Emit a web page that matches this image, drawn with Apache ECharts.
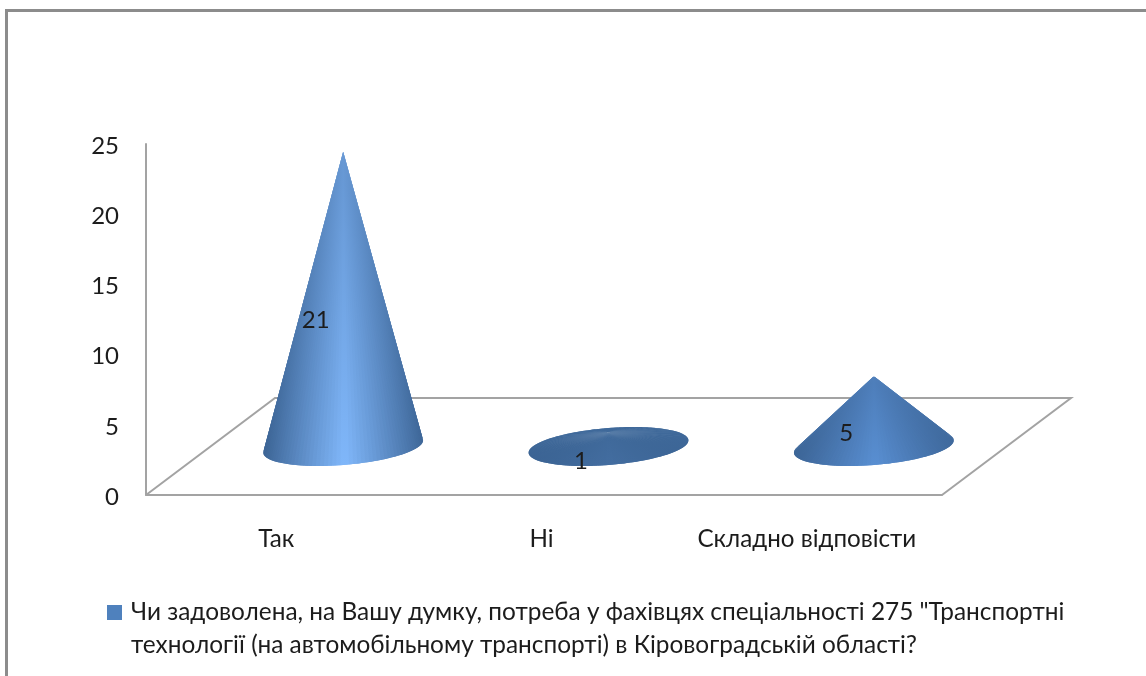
<!DOCTYPE html>
<html>
<head>
<meta charset="utf-8">
<title>Cone chart</title>
<script src="https://cdn.jsdelivr.net/npm/echarts@6/dist/echarts.min.js"></script>
<style>
  html, body { margin: 0; padding: 0; background: #fff; }
  #chart { width: 1146px; height: 676px; }
</style>
</head>
<body>
<div id="chart"></div>
<script>
// data
const categories = ['Так', 'Ні', 'Складно відповісти'];
const answers = [21, 1, 5];
const yTicks = [0, 5, 10, 15, 20, 25];
const seriesName = 'Чи задоволена, на Вашу думку, потреба у фахівцях спеціальності 275 "Транспортні технології (на автомобільному транспорті) в Кіровоградській області?';
const legendLines = [
  'Чи задоволена, на Вашу думку, потреба у фахівцях спеціальності 275 "Транспортні',
  'технології (на автомобільному транспорті) в Кіровоградській області?'
];

const FONT = 'Lato, "Open Sans", sans-serif';
const TEXT = '#1c1c1c';
const LINE = '#a3a3a3';
// pseudo 3d: half of the floor depth, cones stand in the middle of it
const DEPTH_X = 64.5;
const DEPTH_Y = 48.5;
const TILT = 4.65 * Math.PI / 180;
const SLICES = 120;

const mix = (a, b, k) => a.map((v, i) => Math.round(v + (b[i] - v) * k));
const rgb = c => 'rgb(' + c.join(',') + ')';

// the taller the cone, the lighter its lit side
const peakColor = steep => {
  if (steep < 0.9) return mix([66, 108, 158], [90, 144, 213], Math.max(0, (steep - 0.15) / 0.75));
  return mix([90, 144, 213], [129, 184, 252], Math.min(1, (steep - 0.9) / 2.8));
};

const renderFloor = (params, api) => {
  const c = params.coordSys;
  const bottom = c.y + c.height;
  return {
    type: 'polyline',
    shape: {
      points: [
        [c.x, bottom],
        [c.x + DEPTH_X * 2, bottom - DEPTH_Y * 2],
        [c.x + c.width + DEPTH_X * 2, bottom - DEPTH_Y * 2],
        [c.x + c.width, bottom]
      ]
    },
    style: { stroke: LINE, lineWidth: 2, fill: null }
  };
};

const renderCone = (params, api) => {
  const idx = api.value(0);
  const val = api.value(1);
  const base = api.coord([idx, 0]);
  const top = api.coord([idx, val]);
  const half = api.coord([idx, val / 2]);
  const a = api.size([1, 0])[0] * 0.302;
  const b = a * 0.23;
  const cx = base[0] + DEPTH_X;
  const cy = base[1] - DEPTH_Y;
  const apex = [cx, top[1] - DEPTH_Y];
  const peak = peakColor((cy - apex[1]) / a);
  const dark = [58, 98, 146];
  const tip = mix(dark, peak, 0.6);

  const point = t => [
    cx + a * Math.cos(t) * Math.cos(TILT) + b * Math.sin(t) * Math.sin(TILT),
    cy - a * Math.cos(t) * Math.sin(TILT) + b * Math.sin(t) * Math.cos(TILT)
  ];

  const step = Math.PI * 2 / SLICES;
  const slices = [];
  for (let i = 0; i < SLICES; i++) {
    const t0 = i * step;
    const mid = t0 + step / 2;
    const shade = Math.pow(1 - Math.abs(Math.cos(mid)), 0.9);
    const col = mix(dark, peak, shade);
    slices.push({
      front: Math.sin(mid) > 0,
      el: {
        type: 'polygon',
        // runs one step into the next slice, so no white seams between them
        shape: { points: [apex, point(t0), point(t0 + step / 2), point(t0 + step * 2)] },
        style: {
          fill: {
            type: 'linear', global: true,
            x: cx, y: apex[1], x2: cx, y2: cy + b,
            colorStops: [
              { offset: 0, color: rgb(tip) },
              { offset: 1, color: rgb(col) }
            ]
          }
        }
      }
    });
  }
  // back of the cone first, front paints over it
  const children = slices.filter(s => !s.front).concat(slices.filter(s => s.front)).map(s => s.el);
  children.push({
    type: 'text',
    style: {
      text: String(val),
      x: base[0] + 37,
      y: half[1] - 27,
      align: 'center',
      verticalAlign: 'middle',
      fill: TEXT,
      fontSize: 24,
      fontFamily: FONT
    }
  });
  return { type: 'group', children };
};

const chart = echarts.init(document.getElementById('chart'));
chart.setOption({
  animation: false,
  backgroundColor: '#fff',
  grid: { left: 146, right: 204, top: 144, bottom: 181 },
  graphic: [{
    type: 'polyline',
    shape: { points: [[6.5, 676], [6.5, 10.5], [1146, 10.5]] },
    style: { stroke: '#8c8c8c', lineWidth: 3, fill: null },
    silent: true
  }],
  legend: {
    data: [{ name: seriesName, icon: 'rect' }],
    left: 102,
    top: 558,
    itemWidth: 15,
    itemHeight: 15,
    itemGap: 0,
    formatter: () => '\n' + legendLines.join('\n'),
    textStyle: { color: TEXT, fontSize: 24.4, lineHeight: 33, fontFamily: FONT, padding: [0, 0, 0, 4] }
  },
  xAxis: {
    type: 'category',
    data: categories,
    axisTick: { show: false },
    axisLine: { lineStyle: { color: LINE, width: 2 } },
    axisLabel: { color: TEXT, fontSize: 24.2, margin: 30, padding: [2, 5, 0, 0], fontFamily: FONT, interval: 0 }
  },
  yAxis: {
    type: 'value',
    min: yTicks[0],
    max: yTicks[yTicks.length - 1],
    interval: yTicks[1] - yTicks[0],
    splitLine: { show: false },
    axisTick: { show: false },
    axisLine: { show: true, lineStyle: { color: LINE, width: 2 } },
    axisLabel: { color: TEXT, fontSize: 24, margin: 27, verticalAlign: 'top', lineHeight: 4, fontFamily: FONT }
  },
  series: [
    {
      name: 'floor',
      type: 'custom',
      silent: true,
      z: 1,
      data: [[0, 0]],
      renderItem: renderFloor
    },
    {
      name: seriesName,
      type: 'custom',
      z: 2,
      itemStyle: { color: '#4f81bd' },
      encode: { x: 0, y: 1 },
      data: answers.map((v, i) => [i, v]),
      renderItem: renderCone
    }
  ]
});
</script>
</body>
</html>
